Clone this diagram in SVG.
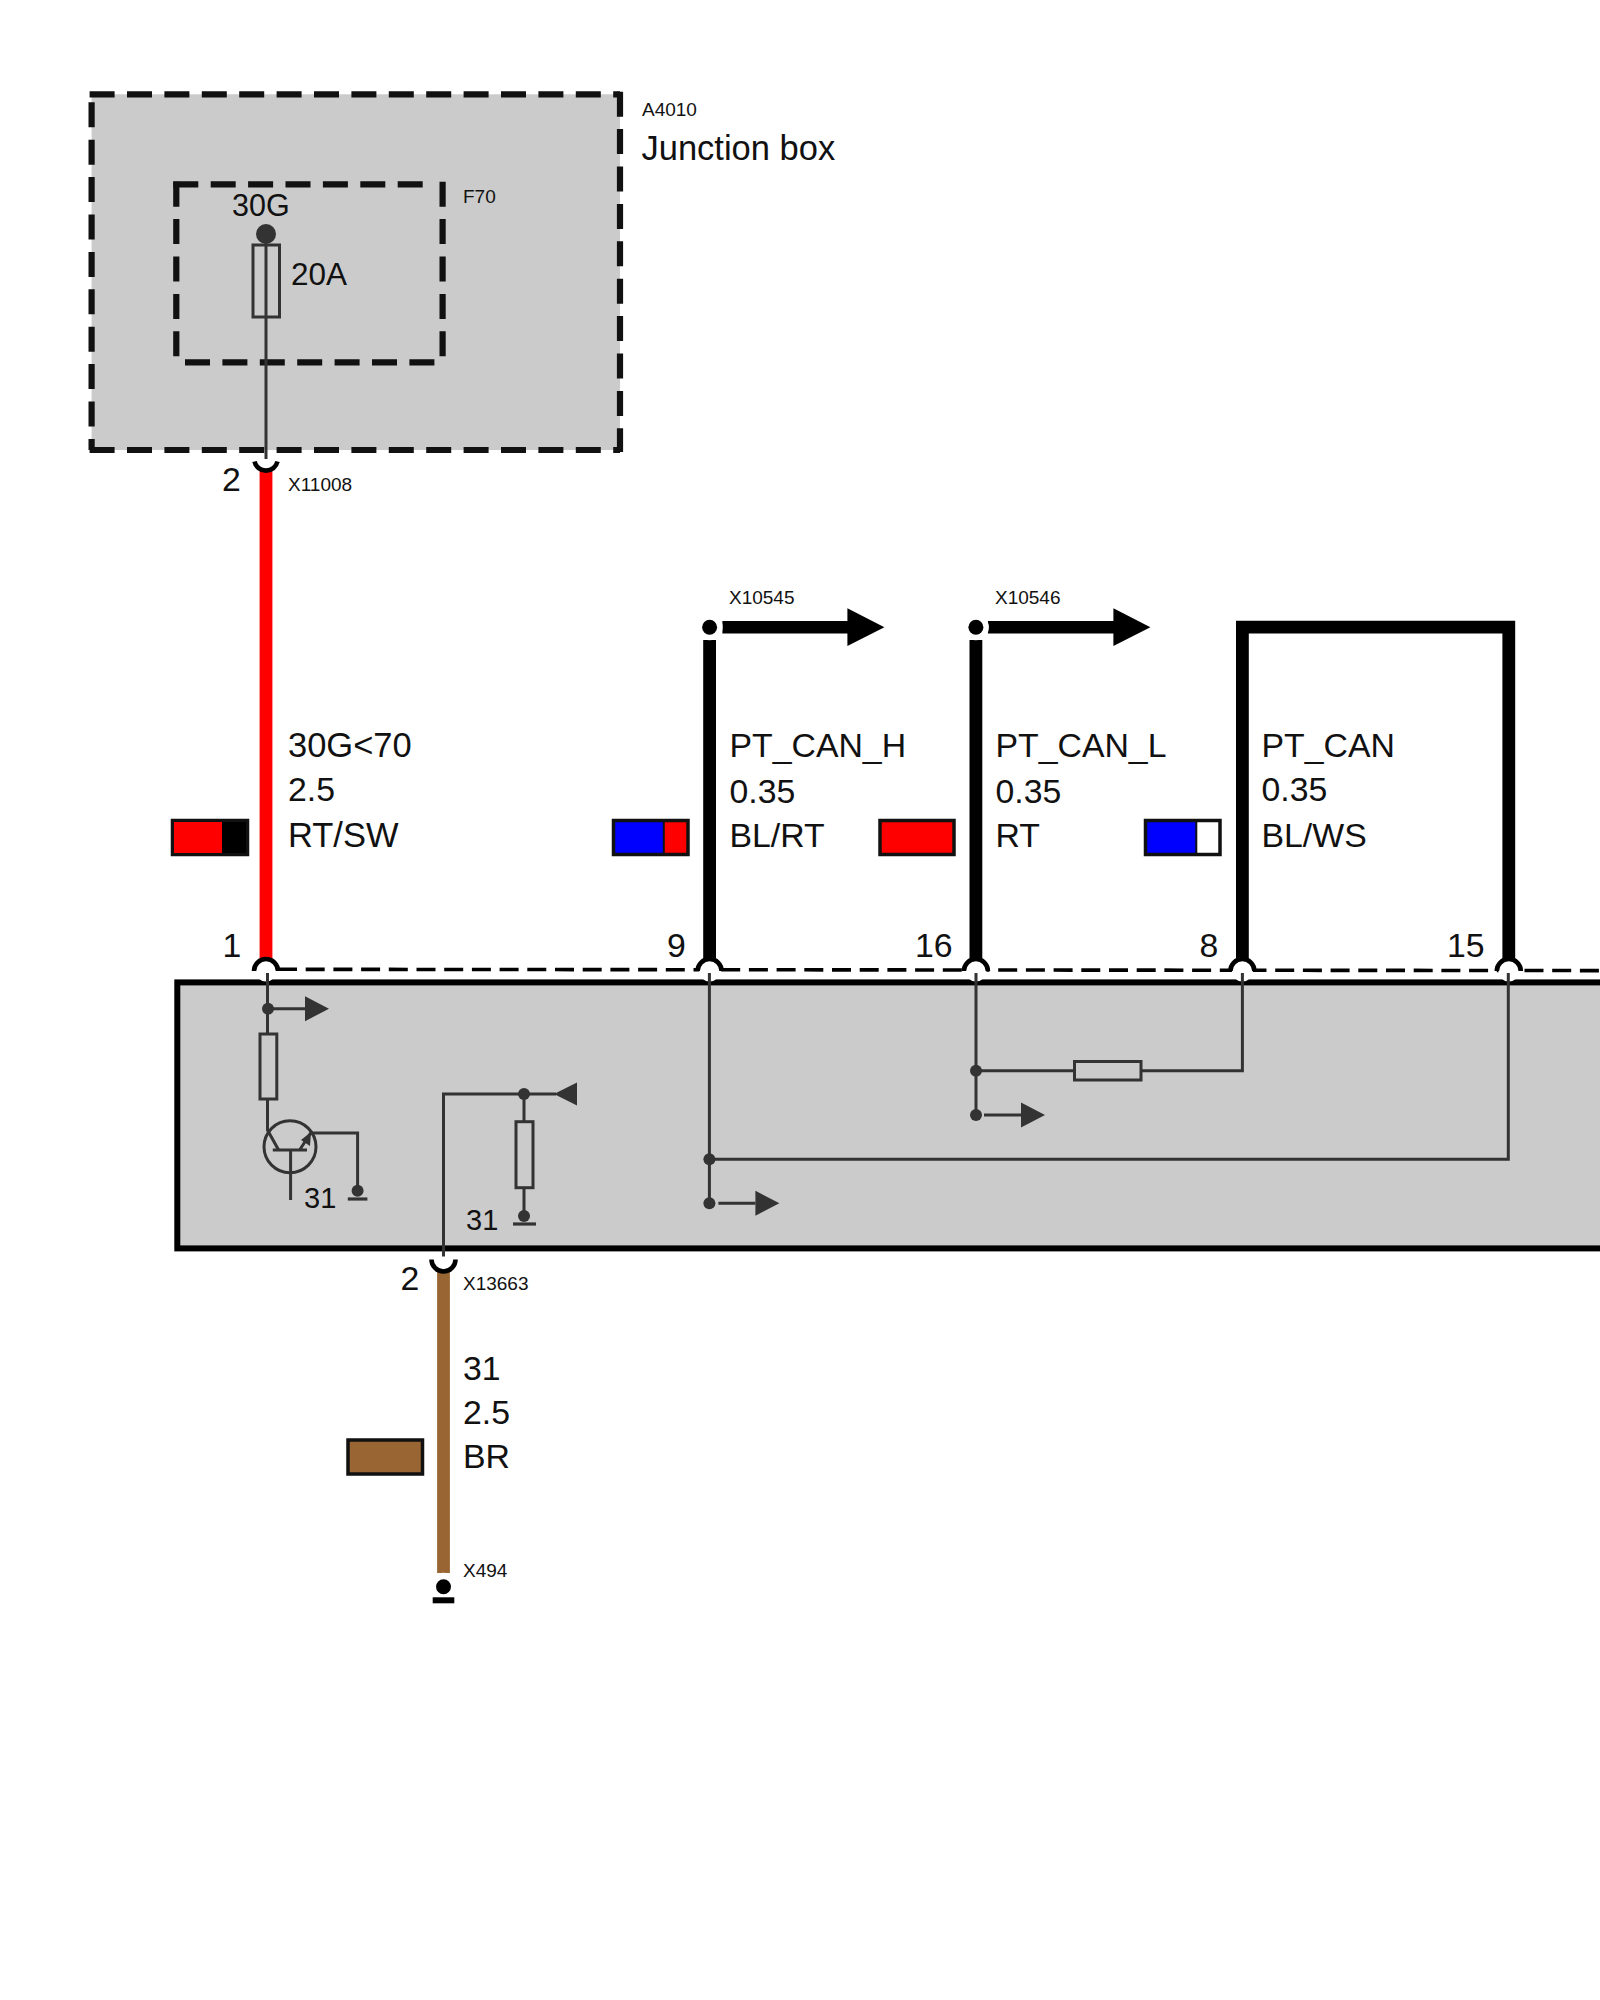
<svg xmlns="http://www.w3.org/2000/svg" width="1600" height="2000" viewBox="0 0 1600 2000">
<defs>
<style>
text{font-family:"Liberation Sans",Arial,sans-serif;fill:#111}
.l{font-size:33.8px}
.s{font-size:19px}
.j{font-size:34.5px}
.m{font-size:29px}
.d{stroke:#111;fill:none;stroke-width:6.2;stroke-dasharray:25 12.4}
.w{fill:none;stroke-width:12.8}
.k{stroke:#000}
.t{fill:none;stroke:#333;stroke-width:3}
.n{fill:#333}
.p{fill:none;stroke:#000;stroke-width:4.6}
.h{fill:#fff}
.sw{stroke:#111;stroke-width:3.5;fill:none}
</style>
<g id="inner-arrow"><path d="M0 0H37" class="t"/><path d="M37 -12.5L61 0L37 12.5Z" class="n"/></g>
</defs>
<rect width="1600" height="2000" fill="#fff"/>

<g id="junction-box">
<rect x="91.6" y="94.3" width="528.4" height="355.7" fill="#cbcbcb"/>
<path class="d" d="M89.6 94.3H620"/>
<path class="d" d="M620 91.7V452"/>
<path class="d" d="M89.6 450H620"/>
<path class="d" d="M91.6 102.3V450"/>
<text class="s" x="642" y="116">A4010</text>
<text class="j" x="641.5" y="160">Junction box</text>
</g>

<g id="fuse-f70">
<path class="d" d="M173.3 184.3H429"/>
<path class="d" d="M442.6 181.7V358"/>
<path class="d" d="M185 362.3H438"/>
<path class="d" d="M176.3 181.7V358"/>
<text class="s" x="463" y="203">F70</text>
<text x="232" y="215.5" style="font-size:30.5px">30G</text>
<circle class="n" cx="266" cy="234" r="10"/>
<rect x="253" y="245" width="26.5" height="72" class="t"/>
<text x="291" y="285" style="font-size:31.5px">20A</text>
</g>

<g id="connectors">
<path class="t" d="M266 240V459"/>
<path class="w" stroke="#ff0000" d="M266 470V960"/>
<path class="w" stroke="#996633" d="M443.5 1269V1573"/>
<path class="w k" d="M709.6 640V960"/>
<path class="w k" d="M975.9 640V960"/>
<path class="w k" d="M1242.4 960V627.2H1508.8V960"/>
<path d="M722.4 621H847.4V608.3L884.4 627.3L847.4 646V633.5H722.4Z" fill="#000"/>
<path d="M987.8 621H1113.4V608.3L1150.4 627.3L1113.4 646V633.5H987.8Z" fill="#000"/>
<path d="M278 969.3L1600 970.6" stroke="#000" stroke-width="3.6" stroke-dasharray="19 8.7" fill="none"/>
</g>

<g id="connector-x11008">
<path class="p" d="M254.5 461.5A11.8 11.8 0 0 0 277.5 461.5"/>
<text class="l" x="222" y="490.5">2</text>
<text class="s" x="288" y="491">X11008</text>
</g>

<g id="wire-30g">
<rect class="sw" x="172.5" y="820.5" width="75" height="34"/>
<rect x="174" y="822" width="48" height="31" fill="#ff0000"/>
<rect x="222" y="822" width="24" height="31" fill="#000"/>
<text class="l" x="288" y="757" style="font-size:34.5px">30G&lt;70</text>
<text class="l" x="288" y="801">2.5</text>
<text class="l" x="288" y="847" style="font-size:34.5px">RT/SW</text>
</g>

<g id="wire-pt-can-h">
<text class="s" x="729" y="603.7">X10545</text>
<circle class="h" cx="709.6" cy="627.3" r="13"/>
<circle cx="709.6" cy="627.3" r="7.5" fill="#000"/>
<rect x="615" y="822" width="49" height="31" fill="#0000ff"/>
<rect x="664" y="822" width="24" height="31" fill="#ff0000"/>
<rect class="sw" x="613.5" y="820.5" width="74.5" height="34"/>
<path d="M663.8 821V854" stroke="#111" stroke-width="2"/>
<text class="l" x="729.5" y="756.5">PT_CAN_H</text>
<text class="l" x="729.5" y="803">0.35</text>
<text class="l" x="729.5" y="847">BL/RT</text>
</g>

<g id="wire-pt-can-l">
<text class="s" x="995" y="603.7">X10546</text>
<circle class="h" cx="975.9" cy="627.3" r="13"/>
<circle cx="975.9" cy="627.3" r="7.5" fill="#000"/>
<rect x="880" y="820.5" width="74" height="34" fill="#ff0000" stroke="#111" stroke-width="3.5"/>
<text class="l" x="995.5" y="756.5">PT_CAN_L</text>
<text class="l" x="995.5" y="803">0.35</text>
<text class="l" x="995.5" y="847">RT</text>
</g>

<g id="wire-pt-can">
<rect x="1147" y="822" width="49.5" height="31" fill="#0000ff"/>
<rect x="1196.5" y="822" width="24" height="31" fill="#fff"/>
<rect class="sw" x="1145.5" y="820.5" width="74.5" height="34"/>
<path d="M1196.3 821V854" stroke="#111" stroke-width="2"/>
<text class="l" x="1261.5" y="756.5">PT_CAN</text>
<text class="l" x="1261.5" y="800.5">0.35</text>
<text class="l" x="1261.5" y="847">BL/WS</text>
</g>

<g id="control-unit">
<rect x="177.3" y="982.4" width="1430" height="266" fill="#cbcbcb" stroke="#000" stroke-width="6"/>
</g>

<g id="pins">
<g id="pin-1"><circle class="h" cx="266" cy="971" r="10.5"/><path class="p" d="M254 971A12 12 0 0 1 278 971"/><text class="l" x="222.5" y="957">1</text></g>
<g id="pin-9"><circle class="h" cx="709.6" cy="971" r="10.5"/><path class="p" d="M697.6 971A12 12 0 0 1 721.6 971"/><text class="l" x="667" y="957">9</text></g>
<g id="pin-16"><circle class="h" cx="975.9" cy="971" r="10.5"/><path class="p" d="M963.9 971A12 12 0 0 1 987.9 971"/><text class="l" x="915" y="957">16</text></g>
<g id="pin-8"><circle class="h" cx="1242.4" cy="971" r="10.5"/><path class="p" d="M1230.4 971A12 12 0 0 1 1254.4 971"/><text class="l" x="1199.5" y="957">8</text></g>
<g id="pin-15"><circle class="h" cx="1508.8" cy="971" r="10.5"/><path class="p" d="M1496.8 971A12 12 0 0 1 1520.8 971"/><text class="l" x="1447" y="957">15</text></g>
</g>

<g id="internal-supply">
<path class="t" d="M267.5 973V1034M267.5 1099V1130L278.6 1150"/>
<circle class="n" cx="268" cy="1008.7" r="6"/>
<use href="#inner-arrow" x="268" y="1008.7"/>
<rect class="t" x="260" y="1034" width="16.8" height="65"/>
<circle class="t" cx="290" cy="1146.7" r="26"/>
<path class="t" d="M272.8 1150H307M290.6 1150V1200M299.6 1150L310.7 1133H357.6V1186"/>
<path class="n" d="M311 1132L310 1146L301 1140Z"/>
<circle class="n" cx="357.6" cy="1190.7" r="6"/>
<path d="M347.8 1199H367.4" stroke="#333" stroke-width="3.2"/>
<text class="m" x="304" y="1208">31</text>
</g>

<g id="internal-ground">
<path class="t" d="M443.5 1256.5V1094H556M524 1094V1121.7M524 1187.7V1216"/>
<circle class="n" cx="524" cy="1094" r="6"/>
<path class="n" d="M577 1082.5V1105.5L554 1094Z"/>
<rect class="t" x="516" y="1121.7" width="17" height="66"/>
<circle class="n" cx="524" cy="1216" r="6"/>
<path d="M513 1224H536" stroke="#333" stroke-width="3.2"/>
<text class="m" x="466" y="1230">31</text>
</g>

<g id="internal-can">
<path class="t" d="M709.4 973V1203.3M709.4 1159.3H1508.3V973"/>
<circle class="n" cx="709.4" cy="1159.3" r="6"/>
<circle class="n" cx="709.4" cy="1203.3" r="6"/>
<use href="#inner-arrow" x="709.4" y="1203.3" transform="translate(9 0)"/>
<path class="t" d="M976 973V1115M976 1070.7H1074M1141.5 1070.7H1242.4V973"/>
<circle class="n" cx="976" cy="1070.7" r="6"/>
<circle class="n" cx="976" cy="1115" r="6"/>
<use href="#inner-arrow" x="976" y="1115" transform="translate(8 0)"/>
<rect class="t" x="1074.5" y="1061.5" width="66.5" height="18.5"/>
</g>

<g id="connector-x13663">
<path class="p" d="M431.5 1259.5A12 12 0 0 0 455.5 1259.5"/>
<text class="l" x="400.5" y="1290">2</text>
<text class="s" x="463" y="1289.5">X13663</text>
</g>

<g id="wire-31">
<rect x="348" y="1440" width="74.5" height="34" fill="#996633" stroke="#111" stroke-width="3.5"/>
<text class="l" x="463" y="1379.5">31</text>
<text class="l" x="463" y="1423.5">2.5</text>
<text class="l" x="463" y="1467.5">BR</text>
</g>

<g id="ground-x494">
<circle class="h" cx="443.5" cy="1586.7" r="14"/>
<circle cx="443.5" cy="1586.7" r="7.5" fill="#000"/>
<rect x="432.7" y="1597.3" width="21.6" height="6" fill="#000"/>
<text class="s" x="463" y="1577">X494</text>
</g>
</svg>
